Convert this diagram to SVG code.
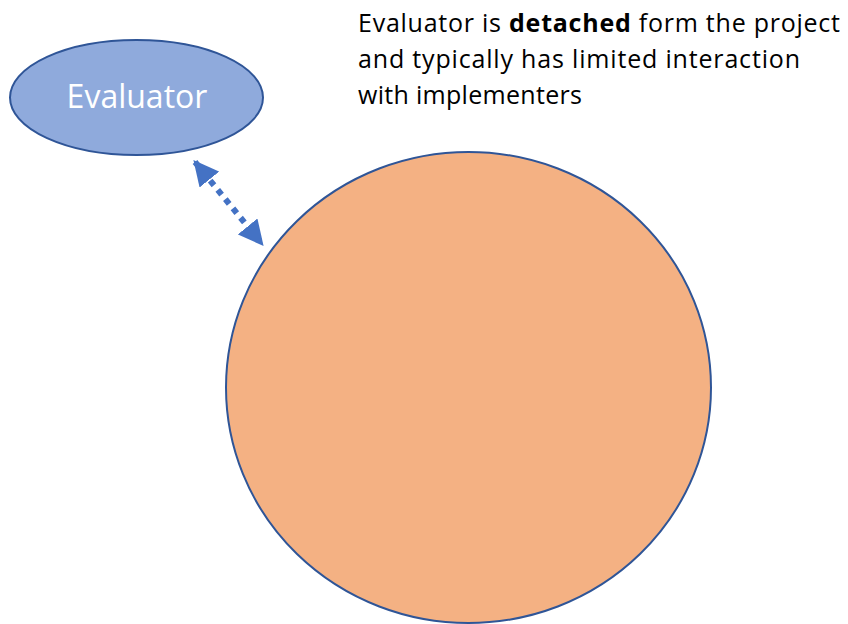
<svg xmlns="http://www.w3.org/2000/svg" width="848" height="624" viewBox="0 0 848 624">
  <style>
    .note { font-family: "Open Sans", "Liberation Sans", sans-serif; font-size: 25px; fill: #000000; }
    .label { font-family: "Open Sans", "Liberation Sans", sans-serif; font-size: 32px; fill: #ffffff; }
  </style>
  <defs>
    <marker id="head" viewBox="0 0 10 10" refX="9" refY="5" markerWidth="4.2" markerHeight="4.2" orient="auto-start-reverse" markerUnits="strokeWidth">
      <path d="M0,0 L10,5 L0,10 Z" fill="#4472c4"/>
    </marker>
  </defs>
  <rect width="848" height="624" fill="#ffffff"/>

  <g id="project">
    <ellipse cx="468.5" cy="387.5" rx="242.5" ry="235.5" fill="#f4b183" stroke="#2f5597" stroke-width="2"/>
  </g>

  <g id="evaluator">
    <ellipse cx="136.5" cy="97.5" rx="126.5" ry="57.5" fill="#8faadc" stroke="#2f5597" stroke-width="2"/>
    <text class="label" x="137" y="108" text-anchor="middle">Evaluator</text>
  </g>

  <g id="connectors">
    <line x1="195" y1="162" x2="262" y2="244" stroke="#4472c4" stroke-width="6" stroke-dasharray="6 6" marker-start="url(#head)" marker-end="url(#head)"/>
  </g>

  <g id="note">
    <text class="note" x="358" y="32" textLength="482" lengthAdjust="spacing">Evaluator is <tspan font-weight="bold">detached</tspan> form the project</text>
    <text class="note" x="358" y="68" textLength="442" lengthAdjust="spacing">and typically has limited interaction</text>
    <text class="note" x="358" y="104" textLength="224" lengthAdjust="spacing">with implementers</text>
  </g>
</svg>
